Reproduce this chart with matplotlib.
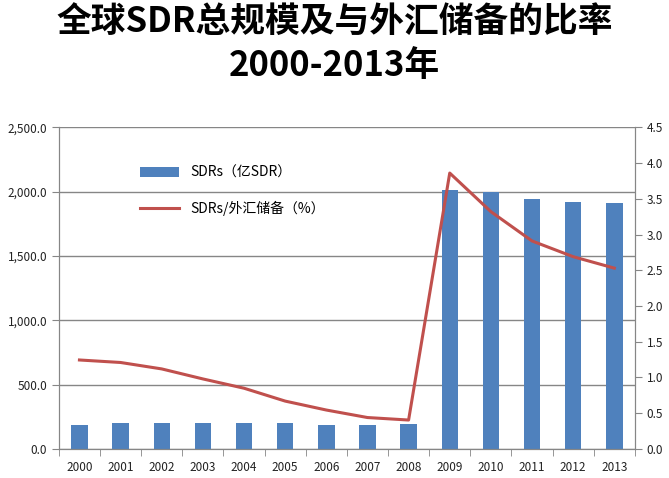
import matplotlib.pyplot as plt
import numpy as np
from matplotlib.ticker import FuncFormatter, MultipleLocator

plt.rcParams['font.family'] = ['Noto Sans CJK SC', 'DejaVu Sans']

# data
years = ['2000', '2001', '2002', '2003', '2004', '2005', '2006',
         '2007', '2008', '2009', '2010', '2011', '2012', '2013']
sdr_total = [186, 202, 202, 202, 202, 202, 186, 186, 194,
             2012, 2000, 1943, 1919, 1911]
sdr_ratio = [1.245, 1.21, 1.12, 0.98, 0.85, 0.67, 0.545, 0.44, 0.405,
             3.86, 3.32, 2.91, 2.69, 2.53]

bar_color = '#4F81BD'
line_color = '#C0504D'
axis_color = '#868686'

fig = plt.figure(figsize=(6.69, 4.78), dpi=100)
ax = fig.add_axes([0.088, 0.0607, 0.861, 0.673])
x = np.arange(len(years))

bars = ax.bar(x, sdr_total, width=0.4, color=bar_color, zorder=2,
              label='SDRs（亿SDR）')
ax.set_xlim(-0.5, len(years) - 0.5)
ax.set_ylim(0, 2500)
ax.yaxis.set_major_locator(MultipleLocator(500))
ax.yaxis.set_major_formatter(FuncFormatter(lambda v, p: f'{v:,.1f}'))
ax.grid(axis='y', color=axis_color, linewidth=1, zorder=0)
ax.set_axisbelow(True)

# category labels centred, tick marks between categories
ax.set_xticks(x)
ax.set_xticklabels(years)
ax.set_xticks(np.arange(-0.5, len(years)), minor=True)
ax.tick_params(axis='x', which='major', length=0, pad=9)
ax.tick_params(axis='x', which='minor', length=5, color=axis_color)
ax.tick_params(axis='y', length=5, color=axis_color)
ax.tick_params(labelsize=8.5, labelcolor='#222222')

ax2 = ax.twinx()
line, = ax2.plot(x, sdr_ratio, color=line_color, linewidth=2.2, zorder=3,
                 label='SDRs/外汇储备（%）')
ax2.set_ylim(0, 4.5)
ax2.yaxis.set_major_locator(MultipleLocator(0.5))
ax2.yaxis.set_major_formatter(FuncFormatter(lambda v, p: f'{v:.1f}'))
ax2.tick_params(axis='y', length=5, color=axis_color, labelsize=8.5,
                labelcolor='#222222')

for a in (ax, ax2):
    a.spines['top'].set_visible(False)
    for s in ('left', 'right', 'bottom'):
        a.spines[s].set_color(axis_color)

ax.legend([bars, line], ['SDRs（亿SDR）', 'SDRs/外汇储备（%）'],
          loc='upper left', bbox_to_anchor=(0.12, 0.92), frameon=False,
          fontsize=10, handlelength=2.8, labelspacing=1.5)

fig.text(0.5, 0.955, '全球SDR总规模及与外汇储备的比率', ha='center', va='center',
         fontsize=25, fontweight='bold')
fig.text(0.5, 0.862, '2000-2013年', ha='center', va='center',
         fontsize=25, fontweight='bold')

fig.savefig('out.png', dpi=100)
